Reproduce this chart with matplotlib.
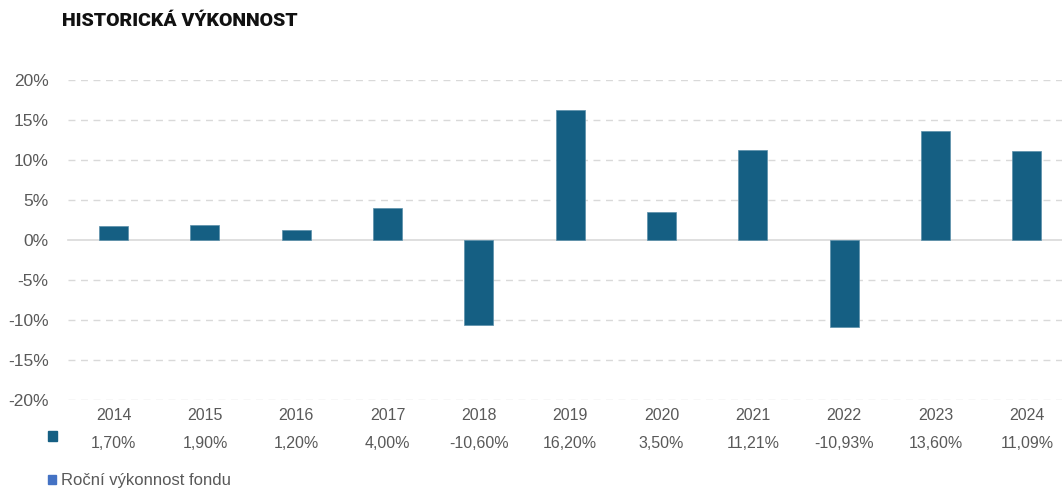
import matplotlib
matplotlib.use("Agg")
import matplotlib.pyplot as plt
from matplotlib.patches import Rectangle

years = ["2014", "2015", "2016", "2017", "2018", "2019", "2020", "2021", "2022", "2023", "2024"]
returns = [1.70, 1.90, 1.20, 4.00, -10.60, 16.20, 3.50, 11.21, -10.93, 13.60, 11.09]
yticks = [-20, -15, -10, -5, 0, 5, 10, 15, 20]

bar_color = "#155F83"
legend_color = "#4472C4"
text_color = "#595959"

fig = plt.figure(figsize=(10.62, 4.88), dpi=100)
# plot area runs slightly past the right edge, as in the original
ax = fig.add_axes([68 / 1062, 0.1803, 1004.5 / 1062, 0.6557])

x = range(len(years))
ax.bar(x, returns, width=0.318, color=bar_color, edgecolor="#5A8FAA",
       linewidth=0.5, zorder=3)

ax.set_xlim(-0.5, len(years) - 0.5)
ax.set_ylim(-20, 20)
ax.set_yticks(yticks)
ax.set_yticklabels([f"{v}%" for v in yticks], color=text_color,
                   fontsize=12.5, family="Liberation Sans")
ax.tick_params(axis="y", length=0, pad=14)
ax.set_xticks([])
for v in yticks:
    if v == 0:
        ax.axhline(v, color="#D9D9D9", lw=1.2, zorder=1, clip_on=False)
    else:
        ax.axhline(v, color="#D9D9D9", lw=1, ls=(0, (5, 4)), zorder=1)
for s in ax.spines.values():
    s.set_visible(False)

# data table under the chart
for i, (yr, val) in enumerate(zip(years, returns)):
    ax.text(i, -21.9, yr, ha="center", va="center", color=text_color,
            fontsize=11.5, family="Liberation Sans")
    ax.text(i, -25.4, f"{val:.2f}%".replace(".", ","), ha="center", va="center",
            color=text_color, fontsize=11.5, family="Liberation Sans")

fig.patches.append(Rectangle((48 / 1062, 1 - 441 / 488), 9 / 1062, 10 / 488,
                             transform=fig.transFigure, color=bar_color))
fig.patches.append(Rectangle((48 / 1062, 1 - 484 / 488), 8 / 1062, 9 / 488,
                             transform=fig.transFigure, color=legend_color))
fig.text(61 / 1062, 1 - 480 / 488, "Roční výkonnost fondu", color=text_color,
         fontsize=12, family="Liberation Sans", va="center", ha="left")

fig.text(62 / 1062, 1 - 21 / 488, "HISTORICKÁ VÝKONNOST", color="#111111",
         fontsize=14, fontweight="heavy", family="Roboto", va="center", ha="left")

fig.savefig("out.png", dpi=100)
